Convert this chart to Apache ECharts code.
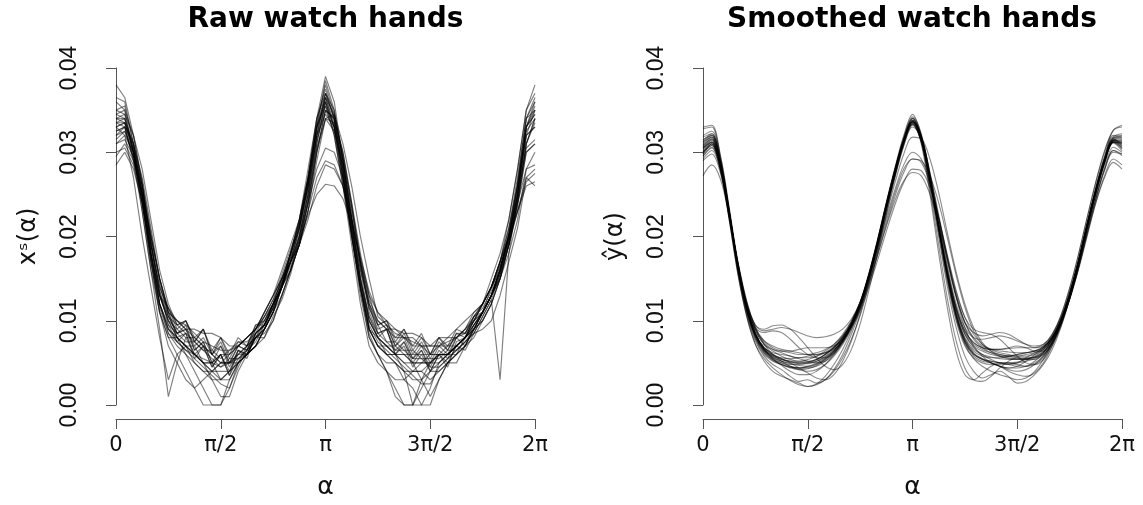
<!DOCTYPE html>
<html>
<head>
<meta charset="utf-8">
<script src="https://cdn.jsdelivr.net/npm/echarts@6/dist/echarts.min.js"></script>
<style>
html,body{margin:0;padding:0;background:#fff;}
#chart{width:1143px;height:505px;}
</style>
</head>
<body>
<div id="chart"></div>
<script>
// angle grid (radians), 49 samples from 0 to 2*pi
const ALPHA = [0, 0.1309, 0.2618, 0.3927, 0.5236, 0.6545, 0.7854, 0.9163, 1.0472, 1.1781, 1.3090, 1.4399, 1.5708, 1.7017, 1.8326, 1.9635, 2.0944, 2.2253, 2.3562, 2.4871, 2.6180, 2.7489, 2.8798, 3.0107, 3.1416, 3.2725, 3.4034, 3.5343, 3.6652, 3.7961, 3.9270, 4.0579, 4.1888, 4.3197, 4.4506, 4.5815, 4.7124, 4.8433, 4.9742, 5.1051, 5.2360, 5.3669, 5.4978, 5.6287, 5.7596, 5.8905, 6.0214, 6.1523, 6.2831];

const X_TICK_LABELS = ['0', 'π/2', 'π', '3π/2', '2π'];
const Y_TICKS = [0.00, 0.01, 0.02, 0.03, 0.04];
const TITLES = ['Raw watch hands', 'Smoothed watch hands'];
const Y_NAMES = ['xˢ(α)', 'ŷ(α)'];
const X_NAME = 'α';

// Raw watch-hand curves x^s(alpha)
const RAW_1 = [0.0340,0.0335,0.0300,0.0250,0.0190,0.0130,0.0105,0.0085,0.0095,0.0065,0.0075,0.0050,0.0060,0.0035,0.0065,0.0060,0.0085,0.0095,0.0120,0.0150,0.0170,0.0200,0.0250,0.0310,0.0360,0.0330,0.0280,0.0220,0.0150,0.0105,0.0080,0.0090,0.0060,0.0075,0.0050,0.0065,0.0045,0.0065,0.0055,0.0080,0.0070,0.0095,0.0110,0.0130,0.0160,0.0200,0.0250,0.0320,0.0330];
const RAW_2 = [0.0365,0.0360,0.0310,0.0260,0.0180,0.0120,0.0090,0.0080,0.0060,0.0040,0.0020,0.0000,0.0000,0.0020,0.0050,0.0070,0.0090,0.0110,0.0130,0.0150,0.0180,0.0210,0.0260,0.0330,0.0385,0.0350,0.0290,0.0220,0.0160,0.0100,0.0080,0.0070,0.0060,0.0040,0.0000,0.0000,0.0020,0.0050,0.0060,0.0070,0.0080,0.0100,0.0120,0.0140,0.0170,0.0210,0.0270,0.0340,0.0365];
const RAW_3 = [0.0300,0.0305,0.0285,0.0240,0.0190,0.0140,0.0115,0.0090,0.0100,0.0080,0.0090,0.0060,0.0080,0.0055,0.0075,0.0070,0.0095,0.0095,0.0120,0.0140,0.0170,0.0190,0.0230,0.0270,0.0290,0.0285,0.0260,0.0210,0.0160,0.0120,0.0095,0.0100,0.0075,0.0090,0.0065,0.0080,0.0060,0.0080,0.0065,0.0085,0.0085,0.0105,0.0120,0.0140,0.0170,0.0200,0.0240,0.0280,0.0285];
const RAW_4 = [0.0330,0.0320,0.0270,0.0200,0.0140,0.0080,0.0030,0.0060,0.0070,0.0060,0.0050,0.0050,0.0030,0.0040,0.0050,0.0060,0.0080,0.0090,0.0110,0.0140,0.0180,0.0220,0.0270,0.0330,0.0360,0.0320,0.0260,0.0200,0.0130,0.0080,0.0060,0.0050,0.0050,0.0040,0.0040,0.0040,0.0050,0.0050,0.0060,0.0060,0.0070,0.0090,0.0100,0.0120,0.0150,0.0190,0.0240,0.0310,0.0340];
const RAW_5 = [0.0350,0.0345,0.0320,0.0280,0.0220,0.0160,0.0120,0.0095,0.0100,0.0075,0.0090,0.0060,0.0075,0.0050,0.0070,0.0065,0.0090,0.0105,0.0120,0.0140,0.0160,0.0190,0.0240,0.0300,0.0350,0.0340,0.0300,0.0240,0.0180,0.0130,0.0095,0.0100,0.0080,0.0090,0.0070,0.0085,0.0060,0.0080,0.0070,0.0090,0.0085,0.0105,0.0110,0.0130,0.0150,0.0180,0.0220,0.0280,0.0300];
const RAW_6 = [0.0320,0.0330,0.0290,0.0250,0.0180,0.0130,0.0100,0.0080,0.0070,0.0060,0.0050,0.0040,0.0050,0.0050,0.0060,0.0060,0.0070,0.0090,0.0110,0.0140,0.0170,0.0200,0.0250,0.0320,0.0370,0.0340,0.0280,0.0210,0.0150,0.0090,0.0070,0.0060,0.0050,0.0030,0.0020,0.0000,0.0000,0.0030,0.0050,0.0060,0.0080,0.0090,0.0110,0.0130,0.0160,0.0200,0.0260,0.0330,0.0355];
const RAW_7 = [0.0310,0.0320,0.0300,0.0260,0.0200,0.0150,0.0110,0.0085,0.0090,0.0065,0.0075,0.0050,0.0070,0.0045,0.0065,0.0055,0.0085,0.0095,0.0120,0.0150,0.0180,0.0210,0.0260,0.0320,0.0345,0.0330,0.0290,0.0230,0.0170,0.0110,0.0085,0.0090,0.0065,0.0075,0.0055,0.0070,0.0050,0.0070,0.0060,0.0080,0.0085,0.0100,0.0120,0.0140,0.0170,0.0210,0.0260,0.0330,0.0345];
const RAW_8 = [0.0345,0.0340,0.0300,0.0240,0.0170,0.0110,0.0080,0.0060,0.0040,0.0020,0.0000,0.0000,0.0000,0.0030,0.0050,0.0060,0.0070,0.0090,0.0110,0.0140,0.0180,0.0220,0.0270,0.0340,0.0375,0.0340,0.0280,0.0210,0.0140,0.0080,0.0060,0.0040,0.0020,0.0000,0.0000,0.0020,0.0040,0.0040,0.0050,0.0060,0.0070,0.0080,0.0100,0.0120,0.0150,0.0190,0.0240,0.0310,0.0340];
const RAW_9 = [0.0330,0.0335,0.0305,0.0260,0.0190,0.0140,0.0110,0.0100,0.0090,0.0090,0.0085,0.0085,0.0080,0.0070,0.0070,0.0080,0.0090,0.0110,0.0130,0.0150,0.0170,0.0200,0.0240,0.0280,0.0305,0.0300,0.0270,0.0220,0.0170,0.0120,0.0100,0.0090,0.0090,0.0085,0.0085,0.0080,0.0070,0.0070,0.0070,0.0080,0.0090,0.0110,0.0120,0.0140,0.0160,0.0190,0.0230,0.0270,0.0260];
const RAW_10 = [0.0340,0.0340,0.0310,0.0250,0.0180,0.0130,0.0100,0.0090,0.0080,0.0060,0.0050,0.0040,0.0040,0.0040,0.0050,0.0060,0.0080,0.0090,0.0120,0.0140,0.0170,0.0190,0.0240,0.0310,0.0360,0.0330,0.0270,0.0200,0.0140,0.0100,0.0080,0.0070,0.0060,0.0060,0.0050,0.0050,0.0050,0.0060,0.0060,0.0070,0.0080,0.0100,0.0110,0.0130,0.0160,0.0200,0.0250,0.0330,0.0350];
const RAW_11 = [0.0295,0.0310,0.0290,0.0250,0.0200,0.0150,0.0110,0.0080,0.0085,0.0060,0.0070,0.0045,0.0060,0.0040,0.0065,0.0060,0.0080,0.0085,0.0100,0.0130,0.0160,0.0190,0.0230,0.0300,0.0350,0.0340,0.0300,0.0240,0.0170,0.0120,0.0085,0.0090,0.0060,0.0070,0.0045,0.0060,0.0040,0.0060,0.0050,0.0070,0.0065,0.0085,0.0090,0.0100,0.0130,0.0170,0.0210,0.0270,0.0280];
const RAW_12 = [0.0380,0.0365,0.0320,0.0260,0.0190,0.0130,0.0100,0.0080,0.0070,0.0060,0.0050,0.0050,0.0060,0.0060,0.0070,0.0080,0.0090,0.0100,0.0120,0.0150,0.0180,0.0210,0.0260,0.0320,0.0365,0.0330,0.0270,0.0200,0.0140,0.0090,0.0080,0.0070,0.0070,0.0060,0.0060,0.0060,0.0060,0.0060,0.0060,0.0070,0.0080,0.0090,0.0110,0.0140,0.0170,0.0220,0.0280,0.0350,0.0380];
const RAW_13 = [0.0325,0.0330,0.0295,0.0240,0.0170,0.0110,0.0070,0.0050,0.0030,0.0020,0.0030,0.0040,0.0050,0.0060,0.0070,0.0080,0.0090,0.0110,0.0130,0.0160,0.0190,0.0220,0.0270,0.0330,0.0355,0.0320,0.0260,0.0190,0.0120,0.0070,0.0050,0.0040,0.0030,0.0030,0.0040,0.0050,0.0060,0.0070,0.0080,0.0080,0.0090,0.0100,0.0110,0.0130,0.0150,0.0190,0.0240,0.0300,0.0310];
const RAW_14 = [0.0335,0.0335,0.0310,0.0270,0.0210,0.0150,0.0110,0.0100,0.0090,0.0080,0.0070,0.0060,0.0050,0.0050,0.0060,0.0070,0.0080,0.0090,0.0110,0.0130,0.0160,0.0190,0.0230,0.0290,0.0340,0.0345,0.0310,0.0260,0.0200,0.0150,0.0105,0.0095,0.0070,0.0080,0.0055,0.0065,0.0040,0.0060,0.0045,0.0075,0.0080,0.0095,0.0110,0.0130,0.0160,0.0200,0.0250,0.0320,0.0330];
const RAW_15 = [0.0350,0.0355,0.0310,0.0250,0.0180,0.0120,0.0090,0.0080,0.0070,0.0050,0.0040,0.0030,0.0030,0.0040,0.0060,0.0070,0.0080,0.0100,0.0120,0.0140,0.0170,0.0210,0.0270,0.0340,0.0390,0.0360,0.0290,0.0220,0.0150,0.0100,0.0080,0.0060,0.0050,0.0040,0.0030,0.0030,0.0040,0.0050,0.0060,0.0070,0.0080,0.0100,0.0120,0.0150,0.0180,0.0220,0.0280,0.0350,0.0370];
const RAW_16 = [0.0285,0.0300,0.0280,0.0240,0.0180,0.0130,0.0115,0.0095,0.0100,0.0075,0.0090,0.0065,0.0080,0.0060,0.0080,0.0070,0.0095,0.0100,0.0120,0.0140,0.0160,0.0190,0.0220,0.0260,0.0285,0.0280,0.0260,0.0220,0.0170,0.0130,0.0110,0.0100,0.0090,0.0080,0.0080,0.0070,0.0070,0.0080,0.0080,0.0090,0.0100,0.0110,0.0120,0.0140,0.0170,0.0200,0.0230,0.0260,0.0265];
const RAW_17 = [0.0360,0.0350,0.0300,0.0230,0.0160,0.0110,0.0080,0.0080,0.0070,0.0070,0.0050,0.0030,0.0010,0.0010,0.0040,0.0060,0.0070,0.0090,0.0110,0.0140,0.0170,0.0210,0.0260,0.0330,0.0370,0.0350,0.0290,0.0220,0.0140,0.0090,0.0070,0.0070,0.0060,0.0050,0.0050,0.0030,0.0010,0.0030,0.0050,0.0050,0.0070,0.0090,0.0100,0.0120,0.0150,0.0190,0.0250,0.0330,0.0360];
const RAW_18 = [0.0315,0.0325,0.0300,0.0255,0.0195,0.0135,0.0095,0.0075,0.0085,0.0055,0.0070,0.0045,0.0060,0.0035,0.0055,0.0060,0.0080,0.0080,0.0105,0.0125,0.0155,0.0195,0.0245,0.0305,0.0340,0.0325,0.0285,0.0225,0.0165,0.0115,0.0095,0.0075,0.0075,0.0065,0.0065,0.0055,0.0055,0.0055,0.0065,0.0065,0.0075,0.0085,0.0105,0.0125,0.0155,0.0195,0.0245,0.0305,0.0315];
const RAW_19 = [0.0335,0.0330,0.0290,0.0230,0.0160,0.0090,0.0010,0.0050,0.0080,0.0080,0.0070,0.0060,0.0050,0.0050,0.0050,0.0060,0.0070,0.0080,0.0100,0.0130,0.0160,0.0200,0.0250,0.0320,0.0355,0.0330,0.0270,0.0200,0.0140,0.0090,0.0070,0.0060,0.0060,0.0060,0.0050,0.0050,0.0050,0.0060,0.0060,0.0070,0.0080,0.0090,0.0110,0.0130,0.0160,0.0200,0.0260,0.0340,0.0350];
const RAW_20 = [0.0330,0.0335,0.0300,0.0250,0.0180,0.0120,0.0095,0.0085,0.0075,0.0075,0.0065,0.0055,0.0045,0.0055,0.0055,0.0065,0.0085,0.0095,0.0115,0.0145,0.0175,0.0205,0.0255,0.0315,0.0350,0.0325,0.0265,0.0205,0.0145,0.0105,0.0085,0.0075,0.0065,0.0065,0.0055,0.0055,0.0045,0.0045,0.0055,0.0065,0.0075,0.0085,0.0105,0.0125,0.0030,0.0180,0.0245,0.0310,0.0335];
const RAW_21 = [0.0345,0.0350,0.0320,0.0265,0.0195,0.0135,0.0105,0.0095,0.0085,0.0075,0.0065,0.0065,0.0055,0.0065,0.0075,0.0075,0.0085,0.0105,0.0125,0.0155,0.0185,0.0215,0.0265,0.0325,0.0365,0.0345,0.0295,0.0235,0.0165,0.0115,0.0090,0.0095,0.0070,0.0085,0.0060,0.0075,0.0055,0.0075,0.0065,0.0085,0.0080,0.0105,0.0115,0.0135,0.0165,0.0205,0.0265,0.0340,0.0360];
const RAW_22 = [0.0320,0.0325,0.0295,0.0245,0.0175,0.0120,0.0090,0.0075,0.0065,0.0060,0.0055,0.0050,0.0045,0.0050,0.0055,0.0065,0.0075,0.0095,0.0115,0.0145,0.0175,0.0215,0.0265,0.0330,0.0365,0.0335,0.0275,0.0205,0.0135,0.0085,0.0060,0.0040,0.0010,0.0000,0.0000,0.0030,0.0050,0.0060,0.0060,0.0070,0.0080,0.0095,0.0110,0.0130,0.0160,0.0205,0.0260,0.0325,0.0340];
const RAW_23 = [0.0310,0.0315,0.0295,0.0255,0.0200,0.0150,0.0115,0.0100,0.0095,0.0085,0.0075,0.0070,0.0065,0.0065,0.0070,0.0080,0.0090,0.0105,0.0125,0.0145,0.0170,0.0195,0.0225,0.0250,0.0262,0.0260,0.0245,0.0215,0.0175,0.0135,0.0110,0.0095,0.0085,0.0080,0.0075,0.0070,0.0070,0.0070,0.0075,0.0080,0.0090,0.0105,0.0120,0.0140,0.0165,0.0195,0.0230,0.0265,0.0275];
const RAW_24 = [0.0335,0.0340,0.0305,0.0245,0.0175,0.0120,0.0085,0.0070,0.0060,0.0050,0.0040,0.0040,0.0030,0.0030,0.0050,0.0060,0.0070,0.0090,0.0110,0.0140,0.0180,0.0220,0.0280,0.0340,0.0370,0.0340,0.0275,0.0205,0.0140,0.0090,0.0070,0.0060,0.0060,0.0050,0.0040,0.0040,0.0030,0.0040,0.0050,0.0060,0.0070,0.0090,0.0110,0.0130,0.0160,0.0200,0.0255,0.0330,0.0345];
const RAW_25 = [0.0325,0.0330,0.0310,0.0265,0.0205,0.0145,0.0105,0.0085,0.0090,0.0070,0.0080,0.0060,0.0070,0.0050,0.0070,0.0065,0.0085,0.0095,0.0115,0.0140,0.0165,0.0195,0.0240,0.0300,0.0340,0.0335,0.0295,0.0235,0.0175,0.0125,0.0100,0.0090,0.0080,0.0080,0.0070,0.0070,0.0060,0.0060,0.0070,0.0070,0.0080,0.0095,0.0110,0.0130,0.0155,0.0190,0.0235,0.0300,0.0310];
const RAW_26 = [0.0340,0.0345,0.0300,0.0240,0.0170,0.0115,0.0085,0.0075,0.0065,0.0055,0.0045,0.0035,0.0025,0.0020,0.0045,0.0065,0.0080,0.0095,0.0115,0.0145,0.0180,0.0215,0.0265,0.0335,0.0380,0.0345,0.0285,0.0215,0.0150,0.0095,0.0075,0.0065,0.0055,0.0045,0.0035,0.0025,0.0025,0.0045,0.0055,0.0065,0.0075,0.0090,0.0110,0.0130,0.0155,0.0195,0.0250,0.0320,0.0350];

// Smoothed curves y-hat(alpha)
const SM_1 = [0.0305,0.0315,0.0285,0.0225,0.0162,0.0113,0.0082,0.0065,0.0057,0.0052,0.0049,0.0047,0.0046,0.0049,0.0055,0.0064,0.0077,0.0094,0.0117,0.0151,0.0190,0.0233,0.0274,0.0312,0.0336,0.0316,0.0267,0.0210,0.0155,0.0110,0.0080,0.0066,0.0060,0.0057,0.0055,0.0054,0.0054,0.0055,0.0057,0.0064,0.0079,0.0102,0.0134,0.0172,0.0215,0.0255,0.0290,0.0313,0.0308];
const SM_2 = [0.0320,0.0325,0.0295,0.0235,0.0170,0.0122,0.0095,0.0088,0.0090,0.0092,0.0090,0.0086,0.0082,0.0080,0.0081,0.0084,0.0090,0.0102,0.0122,0.0153,0.0190,0.0232,0.0272,0.0308,0.0330,0.0318,0.0275,0.0220,0.0165,0.0120,0.0092,0.0080,0.0078,0.0080,0.0082,0.0080,0.0076,0.0072,0.0070,0.0072,0.0082,0.0102,0.0132,0.0170,0.0213,0.0255,0.0292,0.0318,0.0322];
const SM_3 = [0.0300,0.0310,0.0280,0.0220,0.0155,0.0105,0.0072,0.0055,0.0044,0.0036,0.0029,0.0024,0.0022,0.0025,0.0034,0.0048,0.0066,0.0088,0.0115,0.0150,0.0190,0.0234,0.0276,0.0314,0.0340,0.0320,0.0270,0.0212,0.0152,0.0105,0.0072,0.0055,0.0046,0.0040,0.0036,0.0033,0.0030,0.0032,0.0040,0.0054,0.0074,0.0100,0.0132,0.0170,0.0214,0.0256,0.0292,0.0316,0.0310];
const SM_4 = [0.0290,0.0298,0.0275,0.0225,0.0168,0.0122,0.0092,0.0076,0.0068,0.0064,0.0062,0.0060,0.0060,0.0062,0.0066,0.0072,0.0082,0.0096,0.0116,0.0145,0.0178,0.0212,0.0243,0.0266,0.0276,0.0272,0.0250,0.0215,0.0172,0.0130,0.0098,0.0080,0.0070,0.0066,0.0064,0.0063,0.0062,0.0062,0.0064,0.0069,0.0080,0.0098,0.0125,0.0160,0.0200,0.0240,0.0272,0.0292,0.0285];
const SM_5 = [0.0328,0.0330,0.0292,0.0228,0.0160,0.0110,0.0078,0.0060,0.0052,0.0048,0.0045,0.0044,0.0046,0.0050,0.0056,0.0064,0.0076,0.0094,0.0119,0.0155,0.0196,0.0240,0.0282,0.0320,0.0345,0.0320,0.0268,0.0206,0.0148,0.0102,0.0074,0.0060,0.0055,0.0052,0.0050,0.0050,0.0051,0.0054,0.0058,0.0066,0.0082,0.0106,0.0139,0.0178,0.0222,0.0264,0.0300,0.0326,0.0330];
const SM_6 = [0.0310,0.0318,0.0288,0.0230,0.0166,0.0116,0.0085,0.0068,0.0060,0.0055,0.0050,0.0044,0.0038,0.0032,0.0030,0.0036,0.0052,0.0076,0.0108,0.0146,0.0188,0.0232,0.0273,0.0310,0.0334,0.0314,0.0266,0.0210,0.0154,0.0108,0.0078,0.0062,0.0055,0.0050,0.0046,0.0044,0.0046,0.0052,0.0060,0.0068,0.0080,0.0100,0.0130,0.0168,0.0211,0.0252,0.0288,0.0312,0.0312];
const SM_7 = [0.0295,0.0305,0.0280,0.0226,0.0165,0.0116,0.0084,0.0066,0.0058,0.0054,0.0052,0.0052,0.0054,0.0058,0.0064,0.0072,0.0084,0.0100,0.0122,0.0152,0.0188,0.0226,0.0264,0.0298,0.0318,0.0316,0.0292,0.0252,0.0204,0.0158,0.0120,0.0092,0.0074,0.0064,0.0058,0.0055,0.0054,0.0054,0.0056,0.0062,0.0076,0.0098,0.0128,0.0166,0.0208,0.0248,0.0284,0.0306,0.0300];
const SM_8 = [0.0312,0.0320,0.0290,0.0230,0.0164,0.0114,0.0082,0.0064,0.0056,0.0052,0.0050,0.0050,0.0051,0.0054,0.0060,0.0068,0.0080,0.0097,0.0120,0.0153,0.0192,0.0235,0.0276,0.0312,0.0334,0.0312,0.0260,0.0200,0.0140,0.0092,0.0058,0.0040,0.0032,0.0036,0.0040,0.0034,0.0026,0.0028,0.0036,0.0048,0.0066,0.0092,0.0126,0.0166,0.0210,0.0252,0.0288,0.0314,0.0315];
const SM_9 = [0.0318,0.0322,0.0290,0.0232,0.0168,0.0120,0.0095,0.0090,0.0094,0.0095,0.0090,0.0080,0.0068,0.0056,0.0046,0.0042,0.0048,0.0066,0.0096,0.0136,0.0180,0.0226,0.0270,0.0308,0.0332,0.0314,0.0268,0.0214,0.0160,0.0116,0.0088,0.0074,0.0068,0.0066,0.0066,0.0068,0.0070,0.0068,0.0064,0.0064,0.0074,0.0096,0.0128,0.0168,0.0212,0.0254,0.0290,0.0316,0.0320];
const SM_10 = [0.0272,0.0285,0.0268,0.0224,0.0170,0.0124,0.0092,0.0072,0.0060,0.0052,0.0046,0.0042,0.0040,0.0042,0.0048,0.0058,0.0072,0.0090,0.0114,0.0144,0.0178,0.0214,0.0248,0.0276,0.0292,0.0288,0.0262,0.0222,0.0174,0.0128,0.0092,0.0070,0.0058,0.0050,0.0046,0.0044,0.0044,0.0046,0.0052,0.0062,0.0078,0.0100,0.0128,0.0162,0.0202,0.0240,0.0270,0.0288,0.0280];
const SM_11 = [0.0302,0.0312,0.0284,0.0226,0.0163,0.0114,0.0082,0.0064,0.0054,0.0048,0.0044,0.0042,0.0043,0.0047,0.0054,0.0064,0.0078,0.0096,0.0120,0.0154,0.0194,0.0238,0.0279,0.0315,0.0338,0.0318,0.0270,0.0214,0.0160,0.0116,0.0088,0.0074,0.0068,0.0066,0.0066,0.0067,0.0068,0.0068,0.0068,0.0072,0.0084,0.0104,0.0134,0.0172,0.0216,0.0258,0.0294,0.0318,0.0316];
const SM_12 = [0.0298,0.0308,0.0280,0.0222,0.0158,0.0108,0.0076,0.0058,0.0048,0.0042,0.0034,0.0028,0.0030,0.0026,0.0030,0.0042,0.0060,0.0084,0.0112,0.0148,0.0188,0.0232,0.0274,0.0312,0.0336,0.0316,0.0268,0.0210,0.0152,0.0106,0.0076,0.0060,0.0054,0.0052,0.0050,0.0048,0.0046,0.0046,0.0050,0.0058,0.0074,0.0098,0.0130,0.0170,0.0214,0.0256,0.0292,0.0315,0.0305];
const SM_13 = [0.0305,0.0312,0.0284,0.0228,0.0166,0.0118,0.0088,0.0072,0.0066,0.0064,0.0064,0.0066,0.0068,0.0068,0.0068,0.0070,0.0078,0.0092,0.0112,0.0140,0.0172,0.0206,0.0238,0.0264,0.0280,0.0278,0.0258,0.0222,0.0178,0.0136,0.0104,0.0084,0.0072,0.0066,0.0062,0.0060,0.0058,0.0058,0.0060,0.0066,0.0078,0.0098,0.0126,0.0162,0.0204,0.0244,0.0278,0.0300,0.0298];
const SM_14 = [0.0308,0.0316,0.0286,0.0228,0.0164,0.0115,0.0083,0.0066,0.0058,0.0054,0.0051,0.0049,0.0049,0.0052,0.0058,0.0066,0.0078,0.0096,0.0120,0.0154,0.0194,0.0238,0.0280,0.0316,0.0340,0.0314,0.0256,0.0190,0.0126,0.0076,0.0044,0.0030,0.0028,0.0034,0.0044,0.0052,0.0056,0.0056,0.0056,0.0060,0.0072,0.0094,0.0126,0.0166,0.0210,0.0252,0.0288,0.0312,0.0310];
const SM_15 = [0.0315,0.0320,0.0288,0.0230,0.0168,0.0120,0.0090,0.0076,0.0070,0.0066,0.0064,0.0062,0.0060,0.0060,0.0062,0.0068,0.0080,0.0098,0.0122,0.0156,0.0196,0.0240,0.0280,0.0316,0.0338,0.0320,0.0274,0.0222,0.0170,0.0128,0.0098,0.0086,0.0082,0.0084,0.0086,0.0084,0.0078,0.0072,0.0068,0.0070,0.0080,0.0100,0.0130,0.0168,0.0210,0.0252,0.0288,0.0314,0.0318];
const SM_16 = [0.0306,0.0314,0.0283,0.0224,0.0160,0.0111,0.0080,0.0062,0.0053,0.0048,0.0045,0.0044,0.0045,0.0048,0.0054,0.0062,0.0075,0.0093,0.0118,0.0152,0.0192,0.0236,0.0277,0.0313,0.0334,0.0312,0.0262,0.0204,0.0146,0.0100,0.0070,0.0056,0.0050,0.0048,0.0048,0.0049,0.0050,0.0052,0.0055,0.0062,0.0078,0.0101,0.0132,0.0170,0.0214,0.0255,0.0290,0.0312,0.0306];
const SM_17 = [0.0300,0.0310,0.0282,0.0224,0.0162,0.0114,0.0084,0.0068,0.0062,0.0060,0.0058,0.0055,0.0052,0.0050,0.0052,0.0060,0.0074,0.0093,0.0118,0.0152,0.0192,0.0236,0.0277,0.0313,0.0336,0.0318,0.0272,0.0216,0.0160,0.0114,0.0084,0.0068,0.0060,0.0054,0.0050,0.0048,0.0050,0.0056,0.0062,0.0068,0.0080,0.0101,0.0131,0.0169,0.0212,0.0253,0.0289,0.0312,0.0304];
const SM_18 = [0.0312,0.0318,0.0287,0.0228,0.0166,0.0118,0.0092,0.0086,0.0088,0.0086,0.0078,0.0068,0.0060,0.0056,0.0056,0.0062,0.0074,0.0092,0.0116,0.0150,0.0190,0.0234,0.0275,0.0311,0.0333,0.0314,0.0266,0.0210,0.0156,0.0112,0.0084,0.0070,0.0064,0.0060,0.0058,0.0058,0.0060,0.0062,0.0064,0.0068,0.0080,0.0100,0.0130,0.0168,0.0212,0.0254,0.0290,0.0314,0.0314];
const SM_19 = [0.0296,0.0306,0.0278,0.0220,0.0156,0.0106,0.0072,0.0052,0.0040,0.0034,0.0030,0.0026,0.0022,0.0024,0.0030,0.0040,0.0056,0.0078,0.0106,0.0142,0.0184,0.0230,0.0273,0.0312,0.0337,0.0318,0.0269,0.0211,0.0153,0.0106,0.0074,0.0058,0.0052,0.0050,0.0046,0.0040,0.0036,0.0034,0.0038,0.0050,0.0070,0.0097,0.0130,0.0170,0.0214,0.0256,0.0292,0.0316,0.0308];
const SM_20 = [0.0300,0.0308,0.0281,0.0226,0.0166,0.0118,0.0088,0.0072,0.0064,0.0058,0.0054,0.0052,0.0052,0.0054,0.0060,0.0068,0.0080,0.0096,0.0118,0.0148,0.0182,0.0218,0.0252,0.0280,0.0292,0.0290,0.0272,0.0240,0.0198,0.0154,0.0116,0.0088,0.0072,0.0064,0.0060,0.0058,0.0058,0.0060,0.0062,0.0066,0.0078,0.0098,0.0126,0.0162,0.0204,0.0244,0.0280,0.0302,0.0298];
const SM_21 = [0.0330,0.0332,0.0296,0.0232,0.0164,0.0112,0.0080,0.0062,0.0054,0.0050,0.0048,0.0048,0.0050,0.0054,0.0060,0.0068,0.0080,0.0098,0.0122,0.0156,0.0196,0.0240,0.0281,0.0318,0.0342,0.0322,0.0272,0.0212,0.0154,0.0108,0.0078,0.0064,0.0058,0.0056,0.0056,0.0058,0.0060,0.0062,0.0064,0.0070,0.0084,0.0106,0.0138,0.0178,0.0222,0.0265,0.0302,0.0326,0.0332];
const SM_22 = [0.0304,0.0312,0.0284,0.0226,0.0164,0.0116,0.0084,0.0066,0.0056,0.0050,0.0046,0.0044,0.0044,0.0046,0.0052,0.0062,0.0076,0.0095,0.0120,0.0154,0.0194,0.0237,0.0278,0.0314,0.0336,0.0318,0.0276,0.0226,0.0176,0.0134,0.0104,0.0090,0.0086,0.0084,0.0078,0.0068,0.0058,0.0050,0.0048,0.0054,0.0070,0.0094,0.0126,0.0166,0.0210,0.0252,0.0288,0.0312,0.0312];
const SM_23 = [0.0308,0.0316,0.0287,0.0229,0.0165,0.0116,0.0085,0.0068,0.0060,0.0055,0.0052,0.0050,0.0050,0.0052,0.0057,0.0065,0.0077,0.0095,0.0119,0.0153,0.0193,0.0237,0.0279,0.0315,0.0338,0.0310,0.0250,0.0180,0.0115,0.0064,0.0036,0.0030,0.0038,0.0046,0.0050,0.0050,0.0048,0.0046,0.0048,0.0056,0.0072,0.0096,0.0128,0.0168,0.0212,0.0254,0.0290,0.0314,0.0312];
const SM_24 = [0.0298,0.0310,0.0284,0.0228,0.0166,0.0117,0.0085,0.0066,0.0055,0.0047,0.0040,0.0036,0.0036,0.0040,0.0048,0.0060,0.0076,0.0096,0.0121,0.0155,0.0195,0.0238,0.0279,0.0314,0.0336,0.0316,0.0268,0.0212,0.0158,0.0114,0.0086,0.0072,0.0066,0.0062,0.0060,0.0058,0.0056,0.0054,0.0054,0.0060,0.0074,0.0096,0.0127,0.0166,0.0210,0.0252,0.0288,0.0311,0.0302];
const SM_25 = [0.0292,0.0302,0.0278,0.0226,0.0168,0.0120,0.0090,0.0074,0.0066,0.0062,0.0058,0.0056,0.0056,0.0058,0.0062,0.0070,0.0082,0.0099,0.0121,0.0151,0.0186,0.0222,0.0256,0.0285,0.0300,0.0292,0.0264,0.0222,0.0174,0.0130,0.0098,0.0078,0.0068,0.0062,0.0058,0.0056,0.0055,0.0055,0.0057,0.0063,0.0076,0.0097,0.0126,0.0163,0.0206,0.0246,0.0280,0.0302,0.0296];
const SM_26 = [0.0314,0.0322,0.0291,0.0231,0.0166,0.0116,0.0084,0.0067,0.0059,0.0056,0.0055,0.0056,0.0058,0.0060,0.0062,0.0066,0.0076,0.0093,0.0118,0.0152,0.0193,0.0237,0.0279,0.0316,0.0340,0.0318,0.0268,0.0209,0.0152,0.0106,0.0076,0.0061,0.0054,0.0050,0.0046,0.0042,0.0040,0.0042,0.0048,0.0058,0.0074,0.0098,0.0130,0.0170,0.0215,0.0258,0.0295,0.0320,0.0318];

const RAW_CURVES = [RAW_1,RAW_2,RAW_3,RAW_4,RAW_5,RAW_6,RAW_7,RAW_8,RAW_9,RAW_10,RAW_11,RAW_12,RAW_13,RAW_14,RAW_15,RAW_16,RAW_17,RAW_18,RAW_19,RAW_20,RAW_21,RAW_22,RAW_23,RAW_24,RAW_25,RAW_26];
const SMOOTH_CURVES = [SM_1,SM_2,SM_3,SM_4,SM_5,SM_6,SM_7,SM_8,SM_9,SM_10,SM_11,SM_12,SM_13,SM_14,SM_15,SM_16,SM_17,SM_18,SM_19,SM_20,SM_21,SM_22,SM_23,SM_24,SM_25,SM_26];

const chart = echarts.init(document.getElementById('chart'), null, {renderer: 'canvas'});

const GRID_LEFTS = [116, 703];
const PLOT_CENTERS = [325.5, 912];
const AXIS_COLOR = '#555';
const HALF_PI = Math.PI / 2;

function makeXAxis(i) {
  return {
    type: 'value', gridIndex: i, min: 0, max: 2 * Math.PI, interval: HALF_PI,
    offset: 14,
    axisLine: {show: true, onZero: false, lineStyle: {color: AXIS_COLOR, width: 1}},
    axisTick: {show: true, length: 10, lineStyle: {color: AXIS_COLOR, width: 1}},
    axisLabel: {
      show: true, margin: 16, color: '#111',
      fontFamily: 'DejaVu Sans', fontSize: 21,
      formatter: function (v) { return X_TICK_LABELS[Math.round(v / HALF_PI)]; }
    },
    splitLine: {show: false},
    name: X_NAME, nameLocation: 'middle', nameGap: 56,
    nameTextStyle: {fontFamily: 'DejaVu Sans', fontSize: 25, color: '#111'}
  };
}
function makeYAxis(i) {
  return {
    type: 'value', gridIndex: i, min: Y_TICKS[0], max: Y_TICKS[Y_TICKS.length - 1], interval: 0.01,
    offset: 17,
    axisLine: {show: true, lineStyle: {color: AXIS_COLOR, width: 1}},
    axisTick: {show: true, length: 10, lineStyle: {color: AXIS_COLOR, width: 1}},
    axisLabel: {
      show: true, rotate: 90, margin: 18, color: '#111',
      fontFamily: 'Liberation Sans', fontSize: 23,
      formatter: function (v) { return v.toFixed(2); }
    },
    splitLine: {show: false},
    name: Y_NAMES[i], nameLocation: 'middle', nameRotate: 90, nameGap: 58,
    nameTextStyle: {fontFamily: 'DejaVu Sans', fontSize: 24, color: '#111'}
  };
}

const series = [];
RAW_CURVES.forEach(function (c) {
  series.push({
    type: 'line', xAxisIndex: 0, yAxisIndex: 0, showSymbol: false, silent: true,
    data: ALPHA.map(function (a, k) { return [a, c[k]]; }),
    lineStyle: {color: 'rgba(0,0,0,0.5)', width: 1.15}, clip: false
  });
});
SMOOTH_CURVES.forEach(function (c) {
  series.push({
    type: 'line', xAxisIndex: 1, yAxisIndex: 1, showSymbol: false, silent: true, smooth: 0.35,
    data: ALPHA.map(function (a, k) { return [a, c[k]]; }),
    lineStyle: {color: 'rgba(0,0,0,0.45)', width: 1.1}, clip: false
  });
});

chart.setOption({
  animation: false,
  backgroundColor: '#fff',
  grid: GRID_LEFTS.map(function (l) { return {left: l, top: 68, width: 419, height: 342, containLabel: false}; }),
  xAxis: [makeXAxis(0), makeXAxis(1)],
  yAxis: [makeYAxis(0), makeYAxis(1)],
  graphic: TITLES.map(function (t, i) {
    return {type: 'text', x: PLOT_CENTERS[i], y: 6,
      style: {text: t, fill: '#000', font: 'bold 28px "DejaVu Sans"', textAlign: 'center', textVerticalAlign: 'top'}};
  }),
  series: series
});
</script>
</body>
</html>
